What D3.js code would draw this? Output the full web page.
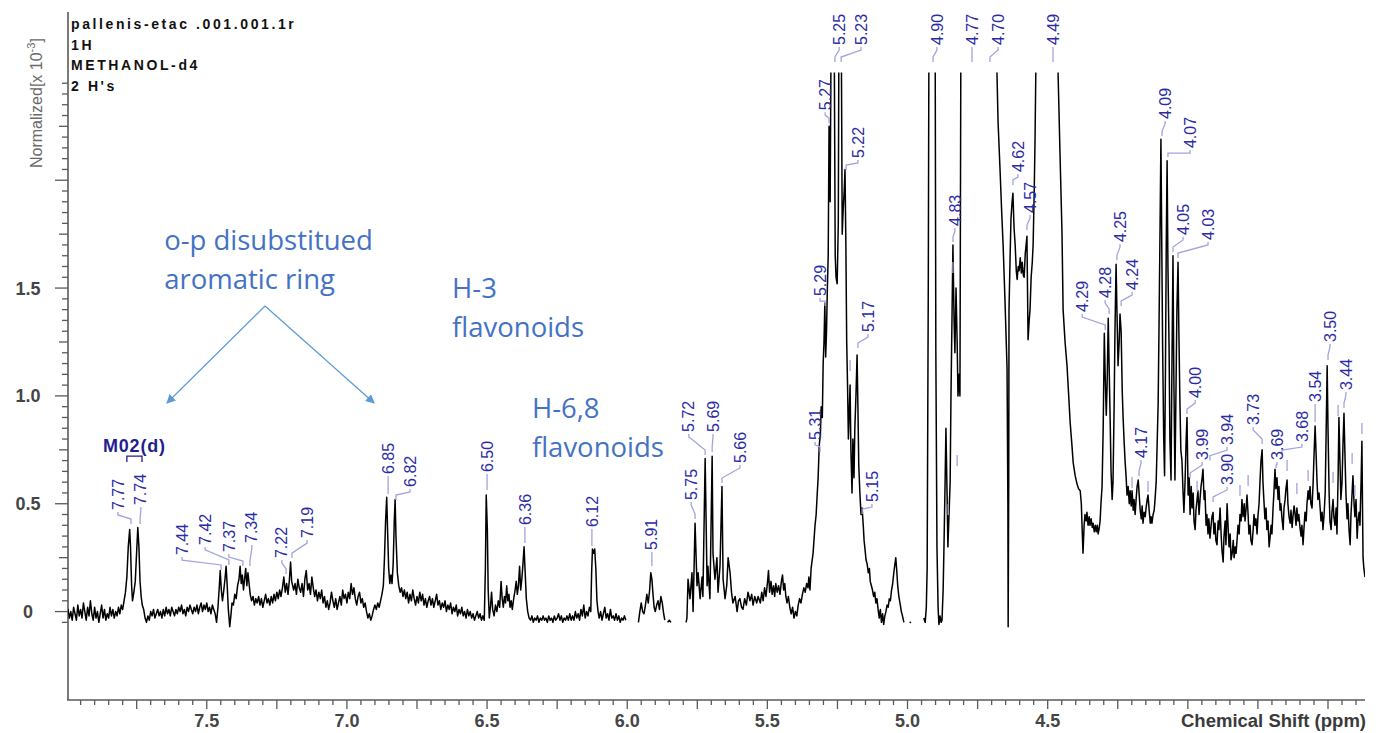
<!DOCTYPE html>
<html>
<head>
<meta charset="utf-8">
<script src="https://cdn.jsdelivr.net/npm/d3@7"></script>
<style>
  body { margin: 0; background: #fff; }
  svg { display: block; }
</style>
</head>
<body>
<div id="chart"></div>
<script>
// spectrum pieces, [chemical shift ppm, normalized intensity x 10^-3]
const specAromatic = [[8.00,-0.02],[7.995,0.01],[7.99,-0.03],[7.985,0.00],[7.98,-0.04],[7.975,0.02],[7.97,-0.01],[7.965,-0.04],[7.96,0.03],[7.955,-0.02],[7.95,0.01],[7.945,-0.03],[7.94,0.04],[7.935,0.00],[7.93,-0.04],[7.925,0.02],[7.92,-0.02],[7.915,0.05],[7.91,-0.01],[7.905,-0.04],[7.90,0.02],[7.895,-0.03],[7.89,0.00],[7.885,-0.05],[7.88,-0.01],[7.875,0.03],[7.87,-0.03],[7.865,0.01],[7.86,-0.04],[7.855,-0.01],[7.85,-0.03],[7.845,0.02],[7.84,-0.02],[7.835,0.01],[7.83,-0.03],[7.825,0.00],[7.82,-0.02],[7.815,0.02],[7.81,-0.01],[7.805,0.03],[7.80,0.01],[7.795,0.05],[7.79,0.09],[7.785,0.16],[7.78,0.30],[7.775,0.38],[7.772,0.30],[7.768,0.12],[7.765,0.05],[7.76,0.09],[7.755,0.14],[7.75,0.28],[7.746,0.39],[7.742,0.30],[7.738,0.14],[7.734,0.07],[7.73,0.03],[7.725,0.01],[7.72,-0.03],[7.715,-0.05],[7.71,-0.02],[7.705,-0.04],[7.70,0.00],[7.695,-0.02],[7.69,0.01],[7.685,-0.03],[7.68,-0.01],[7.675,0.01],[7.67,-0.02],[7.665,0.00],[7.66,-0.03],[7.655,0.01],[7.65,-0.02],[7.645,0.02],[7.64,-0.01],[7.635,0.01],[7.63,-0.02],[7.625,0.02],[7.62,0.00],[7.615,-0.02],[7.61,0.01],[7.605,-0.01],[7.60,0.02],[7.595,0.00],[7.59,0.03],[7.585,-0.01],[7.58,0.01],[7.575,-0.02],[7.57,0.02],[7.565,0.00],[7.56,0.03],[7.555,0.01],[7.55,-0.01],[7.545,0.02],[7.54,0.00],[7.535,0.03],[7.53,-0.01],[7.525,0.02],[7.52,0.04],[7.515,0.00],[7.51,0.03],[7.505,0.01],[7.50,0.04],[7.495,0.00],[7.49,0.02],[7.485,-0.01],[7.48,0.03],[7.475,0.01],[7.47,-0.01],[7.465,-0.05],[7.46,0.02],[7.455,0.12],[7.452,0.19],[7.448,0.10],[7.444,0.05],[7.44,0.09],[7.435,0.15],[7.431,0.21],[7.427,0.12],[7.423,0.01],[7.418,-0.07],[7.414,-0.02],[7.41,0.04],[7.405,0.03],[7.40,0.08],[7.395,0.06],[7.39,0.12],[7.385,0.15],[7.381,0.21],[7.377,0.13],[7.373,0.17],[7.369,0.10],[7.365,0.15],[7.361,0.20],[7.357,0.12],[7.353,0.18],[7.349,0.13],[7.345,0.08],[7.34,0.05],[7.335,0.07],[7.33,0.03],[7.325,0.06],[7.32,0.04],[7.315,0.07],[7.31,0.03],[7.305,0.06],[7.30,0.02],[7.295,0.05],[7.29,0.08],[7.285,0.04],[7.28,0.06],[7.275,0.03],[7.27,0.07],[7.265,0.04],[7.26,0.08],[7.255,0.05],[7.25,0.09],[7.245,0.06],[7.24,0.10],[7.235,0.07],[7.23,0.11],[7.225,0.16],[7.22,0.09],[7.215,0.13],[7.21,0.08],[7.205,0.15],[7.201,0.23],[7.197,0.14],[7.19,0.10],[7.185,0.13],[7.18,0.08],[7.175,0.15],[7.17,0.11],[7.165,0.09],[7.16,0.13],[7.155,0.07],[7.15,0.15],[7.145,0.19],[7.14,0.10],[7.135,0.13],[7.13,0.08],[7.125,0.16],[7.12,0.11],[7.115,0.07],[7.11,0.10],[7.105,0.05],[7.10,0.09],[7.095,0.06],[7.09,0.10],[7.085,0.04],[7.08,0.07],[7.075,0.02],[7.07,0.05],[7.065,0.01],[7.06,0.04],[7.055,0.09],[7.05,0.05],[7.045,0.02],[7.04,0.06],[7.035,0.01],[7.03,0.04],[7.025,0.07],[7.02,0.03],[7.015,0.10],[7.01,0.06],[7.005,0.08],[7.00,0.04],[6.995,0.09],[6.99,0.06],[6.985,0.13],[6.98,0.08],[6.975,0.11],[6.97,0.06],[6.965,0.03],[6.96,0.07],[6.955,0.09],[6.95,0.04],[6.945,0.06],[6.94,0.02],[6.935,0.04],[6.93,0.00],[6.925,-0.03],[6.92,-0.01],[6.915,-0.04],[6.91,-0.02],[6.905,0.01],[6.90,0.03],[6.895,0.01],[6.89,0.04],[6.885,0.02],[6.88,0.05],[6.875,0.08],[6.87,0.12],[6.866,0.25],[6.862,0.42],[6.858,0.53],[6.855,0.38],[6.851,0.20],[6.847,0.13],[6.843,0.17],[6.839,0.13],[6.835,0.22],[6.831,0.42],[6.828,0.52],[6.825,0.35],[6.82,0.18],[6.815,0.12],[6.81,0.09],[6.805,0.11],[6.80,0.07],[6.795,0.10],[6.79,0.06],[6.785,0.09],[6.78,0.04],[6.775,0.08],[6.77,0.05],[6.765,0.10],[6.76,0.06],[6.755,0.03],[6.75,0.07],[6.745,0.04],[6.74,0.09],[6.735,0.05],[6.73,0.08],[6.725,0.03],[6.72,0.06],[6.715,0.02],[6.71,0.05],[6.705,0.07],[6.70,0.03],[6.695,0.06],[6.69,0.02],[6.685,0.05],[6.68,0.08],[6.675,0.03],[6.67,0.05],[6.665,0.01],[6.66,0.04],[6.655,0.02],[6.65,0.05],[6.645,0.00],[6.64,0.03],[6.635,0.01],[6.63,0.04],[6.625,-0.01],[6.62,0.02],[6.615,0.00],[6.61,0.03],[6.605,-0.02],[6.60,0.01],[6.595,-0.01],[6.59,0.02],[6.585,-0.02],[6.58,0.00],[6.575,-0.03],[6.57,0.01],[6.565,-0.02],[6.56,0.00],[6.555,-0.03],[6.55,-0.01],[6.545,-0.04],[6.54,-0.02],[6.535,0.00],[6.53,-0.03],[6.525,-0.01],[6.52,-0.04],[6.515,-0.02],[6.51,-0.04],[6.506,0.20],[6.503,0.54],[6.499,0.38],[6.496,0.10],[6.492,-0.03],[6.488,0.02],[6.484,0.09],[6.48,0.01],[6.475,-0.02],[6.47,0.03],[6.465,0.00],[6.46,0.05],[6.455,0.02],[6.45,0.14],[6.446,0.06],[6.442,0.02],[6.438,0.07],[6.434,0.04],[6.43,0.12],[6.426,0.05],[6.422,0.08],[6.418,0.02],[6.414,0.05],[6.41,0.01],[6.405,0.06],[6.40,0.10],[6.396,0.14],[6.392,0.08],[6.388,0.12],[6.384,0.21],[6.38,0.10],[6.376,0.15],[6.372,0.22],[6.368,0.30],[6.364,0.18],[6.36,0.06],[6.355,0.00],[6.35,-0.03],[6.345,-0.04],[6.34,-0.02],[6.335,-0.05],[6.33,-0.03],[6.325,-0.04],[6.32,-0.02],[6.315,-0.05],[6.31,-0.03],[6.305,-0.04],[6.30,-0.02],[6.295,-0.04],[6.29,-0.03],[6.285,-0.05],[6.28,-0.02],[6.275,-0.04],[6.27,-0.03],[6.265,-0.05],[6.26,-0.02],[6.255,-0.04],[6.25,-0.03],[6.245,-0.01],[6.24,-0.04],[6.235,-0.02],[6.23,-0.05],[6.225,-0.03],[6.22,-0.04],[6.215,-0.02],[6.21,-0.04],[6.205,-0.01],[6.20,-0.04],[6.195,-0.02],[6.19,-0.04],[6.185,0.00],[6.18,-0.03],[6.175,-0.01],[6.17,-0.04],[6.165,0.01],[6.16,-0.02],[6.155,0.03],[6.15,-0.03],[6.145,0.00],[6.14,-0.02],[6.135,0.02],[6.13,0.00],[6.127,0.18],[6.124,0.29],[6.12,0.27],[6.116,0.29],[6.112,0.20],[6.108,0.05],[6.104,0.00],[6.10,-0.03],[6.095,0.00],[6.09,-0.04],[6.085,-0.01],[6.08,0.02],[6.075,-0.03],[6.07,-0.01],[6.065,-0.04],[6.06,0.01],[6.055,-0.03],[6.05,-0.02],[6.045,-0.04],[6.04,-0.01],[6.035,-0.04],[6.03,-0.02],[6.025,-0.05],[6.02,-0.03],[6.015,-0.04],[6.01,-0.02],[6.005,-0.04]];

const specH68 = [[5.96,-0.05],[5.955,0.00],[5.95,0.04],[5.945,0.00],[5.94,-0.01],[5.935,0.03],[5.93,0.08],[5.925,0.04],[5.92,0.10],[5.916,0.18],[5.912,0.15],[5.908,0.08],[5.904,0.02],[5.90,0.00],[5.895,0.03],[5.89,0.05],[5.885,0.01],[5.88,0.07],[5.875,0.04],[5.87,-0.01],[5.866,-0.04]];

const specH68tail = [[5.856,-0.05],[5.85,-0.04],[5.844,-0.05]];

const specH3 = [[5.79,-0.05],[5.787,-0.03],[5.783,0.15],[5.776,0.06],[5.769,0.18],[5.765,0.00],[5.758,0.41],[5.751,0.12],[5.747,0.18],[5.740,0.06],[5.733,0.16],[5.730,0.07],[5.722,0.71],[5.715,0.12],[5.712,0.21],[5.705,0.06],[5.697,0.72],[5.694,0.27],[5.687,0.15],[5.680,0.25],[5.676,0.09],[5.669,0.21],[5.662,0.58],[5.658,0.15],[5.651,0.06],[5.645,0.12],[5.640,0.25],[5.633,0.18],[5.628,0.09],[5.623,0.04],[5.615,0.07],[5.608,0.00],[5.603,0.05],[5.598,0.06],[5.592,0.02],[5.587,0.01],[5.581,0.06],[5.575,0.03],[5.569,0.09],[5.562,0.05],[5.556,0.08],[5.551,0.03],[5.545,0.07],[5.538,0.04],[5.533,0.07],[5.525,0.04],[5.52,0.09],[5.515,0.05],[5.51,0.11],[5.505,0.07],[5.50,0.13],[5.496,0.19],[5.492,0.09],[5.487,0.14],[5.483,0.08],[5.478,0.12],[5.474,0.07],[5.47,0.13],[5.465,0.09],[5.46,0.12],[5.455,0.08],[5.45,0.14],[5.446,0.17],[5.442,0.10],[5.438,0.13],[5.434,0.07],[5.43,0.04],[5.425,0.07],[5.42,0.02],[5.415,-0.01],[5.41,0.02],[5.405,-0.03],[5.40,0.00],[5.395,-0.02],[5.39,0.03],[5.385,0.06],[5.38,0.04],[5.375,0.08],[5.37,0.11],[5.365,0.09],[5.36,0.13],[5.355,0.11],[5.352,0.16],[5.348,0.10],[5.344,0.20],[5.337,0.27],[5.33,0.40],[5.326,0.45],[5.322,0.55],[5.319,0.62],[5.315,0.77],[5.311,0.82],[5.308,0.95],[5.304,0.90],[5.301,1.15],[5.298,1.25],[5.295,1.43],[5.292,1.18],[5.289,1.30],[5.286,1.50],[5.283,1.65],[5.280,2.25],[5.278,2.05],[5.276,1.90],[5.273,2.6],[5.270,3.0],[5.265,3.0],[5.262,2.8],[5.258,1.65],[5.255,1.55],[5.251,1.52],[5.247,1.80],[5.244,3.0],[5.239,3.0],[5.236,2.6],[5.233,1.75],[5.230,1.85],[5.226,1.95],[5.223,2.05],[5.220,1.70],[5.217,1.25],[5.214,1.05],[5.211,0.80],[5.208,0.92],[5.205,1.05],[5.202,0.75],[5.198,0.55],[5.195,0.80],[5.191,0.62],[5.188,0.85],[5.184,1.00],[5.180,1.19],[5.177,0.95],[5.174,0.68],[5.170,0.55],[5.166,0.45],[5.162,0.48],[5.158,0.40],[5.155,0.33],[5.151,0.28],[5.148,0.24],[5.144,0.22],[5.140,0.18],[5.136,0.20],[5.133,0.14],[5.129,0.12],[5.125,0.10],[5.121,0.07],[5.117,0.09],[5.113,0.04],[5.109,0.06],[5.105,0.01],[5.101,-0.03],[5.097,0.01],[5.093,-0.05],[5.089,-0.01],[5.085,-0.06],[5.081,-0.02],[5.077,0.00],[5.073,0.03],[5.069,0.02],[5.065,0.06],[5.061,0.05],[5.057,0.10],[5.053,0.13],[5.049,0.18],[5.045,0.22],[5.042,0.25],[5.039,0.20],[5.035,0.12],[5.031,0.07],[5.027,0.04],[5.022,0.00],[5.018,-0.02],[5.013,-0.05]];

const specSugar = [[4.942,-0.03],[4.937,-0.05],[4.933,0.02],[4.930,0.20],[4.926,1.5],[4.923,3.0],[4.91,3.4],[4.902,3.0],[4.899,1.2],[4.895,0.30],[4.891,0.02],[4.888,-0.06],[4.884,-0.02],[4.880,-0.05],[4.877,-0.04],[4.873,0.10],[4.870,0.30],[4.866,0.60],[4.863,0.85],[4.859,0.55],[4.856,0.30],[4.852,0.45],[4.848,0.60],[4.845,1.0],[4.841,1.40],[4.838,1.70],[4.834,1.35],[4.831,1.20],[4.827,1.50],[4.823,1.25],[4.820,1.00],[4.816,1.10],[4.813,1.00],[4.811,2.0],[4.809,3.0],[4.78,3.5],[4.74,3.6],[4.70,3.3],[4.688,2.9],[4.681,2.5],[4.677,2.27],[4.670,2.05],[4.664,1.85],[4.659,1.70],[4.652,1.43],[4.645,1.13],[4.642,0.50],[4.641,-0.07],[4.639,0.60],[4.638,1.40],[4.634,1.65],[4.631,1.82],[4.627,1.90],[4.624,1.94],[4.620,1.78],[4.616,1.70],[4.612,1.58],[4.609,1.54],[4.605,1.60],[4.602,1.58],[4.598,1.64],[4.594,1.57],[4.591,1.62],[4.587,1.56],[4.584,1.55],[4.580,1.66],[4.577,1.70],[4.574,1.74],[4.572,1.50],[4.570,1.26],[4.566,1.35],[4.563,1.40],[4.559,1.55],[4.555,1.62],[4.552,1.70],[4.548,1.95],[4.545,2.20],[4.538,3.0],[4.51,3.6],[4.47,3.0],[4.463,2.5],[4.456,2.12],[4.449,1.76],[4.445,1.40],[4.438,1.25],[4.431,1.14],[4.425,1.00],[4.420,0.88],[4.414,0.78],[4.409,0.69],[4.402,0.63],[4.395,0.59],[4.390,0.57],[4.384,0.56],[4.380,0.50],[4.377,0.38],[4.374,0.27],[4.370,0.40],[4.367,0.45],[4.363,0.42],[4.360,0.46],[4.356,0.40],[4.352,0.44],[4.349,0.40],[4.345,0.43],[4.341,0.39],[4.338,0.41],[4.334,0.37],[4.330,0.40],[4.327,0.37],[4.323,0.40],[4.320,0.36],[4.317,0.38],[4.313,0.42],[4.310,0.50],[4.306,0.58],[4.302,0.85],[4.298,1.29],[4.295,1.10],[4.291,0.91],[4.288,1.05],[4.284,1.36],[4.281,1.15],[4.277,0.88],[4.274,0.65],[4.270,0.52],[4.267,0.60],[4.263,0.95],[4.260,1.30],[4.256,1.61],[4.253,1.40],[4.249,1.14],[4.245,1.25],[4.242,1.38],[4.238,1.30],[4.234,1.02],[4.231,0.90],[4.227,0.78],[4.224,0.70],[4.220,0.62],[4.217,0.54],[4.213,0.58],[4.209,0.50],[4.206,0.56],[4.202,0.49],[4.199,0.56],[4.195,0.47],[4.192,0.52],[4.188,0.45],[4.184,0.53],[4.181,0.58],[4.177,0.61],[4.174,0.55],[4.170,0.47],[4.166,0.43],[4.163,0.49],[4.160,0.41],[4.156,0.46],[4.152,0.44],[4.149,0.48],[4.145,0.52],[4.142,0.54],[4.138,0.47],[4.134,0.41],[4.131,0.44],[4.128,0.41],[4.124,0.45],[4.120,0.47],[4.117,0.52],[4.113,0.60],[4.110,0.75],[4.106,0.96],[4.103,1.30],[4.099,1.80],[4.096,2.19],[4.093,1.70],[4.090,1.23],[4.086,0.80],[4.083,0.63],[4.080,1.10],[4.077,1.70],[4.074,2.09],[4.071,1.60],[4.067,1.23],[4.064,0.80],[4.060,0.61],[4.057,1.10],[4.053,1.65],[4.050,1.10],[4.046,0.61],[4.043,0.95],[4.039,1.40],[4.035,1.62],[4.032,1.30],[4.028,0.95],[4.025,0.75],[4.021,0.70],[4.017,0.55],[4.014,0.46],[4.010,0.60],[4.006,0.80],[4.003,0.90],[3.999,0.54],[3.995,0.62],[3.992,0.45],[3.988,0.58],[3.985,0.48],[3.981,0.55],[3.978,0.42],[3.974,0.38],[3.971,0.47],[3.967,0.52],[3.964,0.56],[3.960,0.45],[3.956,0.53],[3.953,0.58],[3.949,0.62],[3.946,0.66],[3.942,0.52],[3.939,0.56],[3.935,0.40],[3.932,0.45],[3.928,0.36],[3.925,0.43],[3.921,0.34],[3.917,0.40],[3.914,0.44],[3.910,0.46],[3.907,0.36],[3.903,0.41],[3.900,0.33],[3.896,0.31],[3.892,0.42],[3.889,0.38],[3.885,0.48],[3.881,0.35],[3.878,0.28],[3.874,0.23],[3.871,0.35],[3.867,0.42],[3.864,0.31],[3.860,0.50],[3.856,0.38],[3.853,0.30],[3.849,0.36],[3.846,0.24],[3.842,0.27],[3.838,0.33],[3.835,0.25],[3.831,0.30],[3.828,0.27],[3.824,0.34],[3.821,0.40],[3.817,0.36],[3.814,0.45],[3.810,0.42],[3.807,0.52],[3.803,0.44],[3.799,0.50],[3.796,0.42],[3.792,0.48],[3.789,0.54],[3.785,0.45],[3.782,0.36],[3.778,0.40],[3.775,0.33],[3.771,0.31],[3.767,0.38],[3.764,0.45],[3.760,0.40],[3.757,0.43],[3.753,0.36],[3.750,0.44],[3.746,0.50],[3.742,0.62],[3.739,0.70],[3.735,0.75],[3.732,0.60],[3.728,0.50],[3.725,0.43],[3.721,0.48],[3.718,0.38],[3.714,0.42],[3.710,0.30],[3.707,0.34],[3.703,0.40],[3.700,0.36],[3.696,0.48],[3.693,0.55],[3.689,0.66],[3.686,0.57],[3.682,0.62],[3.678,0.52],[3.675,0.58],[3.671,0.47],[3.668,0.50],[3.664,0.43],[3.660,0.38],[3.657,0.48],[3.653,0.52],[3.650,0.57],[3.646,0.61],[3.643,0.50],[3.639,0.44],[3.635,0.41],[3.632,0.47],[3.628,0.39],[3.625,0.44],[3.621,0.49],[3.618,0.46],[3.614,0.40],[3.611,0.48],[3.607,0.42],[3.604,0.45],[3.600,0.39],[3.596,0.35],[3.593,0.40],[3.589,0.31],[3.586,0.38],[3.582,0.46],[3.578,0.42],[3.575,0.50],[3.571,0.56],[3.568,0.52],[3.564,0.58],[3.561,0.50],[3.557,0.48],[3.553,0.60],[3.550,0.72],[3.546,0.86],[3.543,0.75],[3.539,0.60],[3.536,0.52],[3.532,0.55],[3.528,0.48],[3.525,0.42],[3.521,0.46],[3.518,0.38],[3.514,0.45],[3.510,0.55],[3.507,0.80],[3.503,1.14],[3.500,0.85],[3.496,0.55],[3.493,0.42],[3.489,0.38],[3.486,0.46],[3.482,0.52],[3.479,0.44],[3.475,0.40],[3.471,0.48],[3.468,0.36],[3.464,0.62],[3.461,0.90],[3.457,0.68],[3.454,0.52],[3.450,0.60],[3.446,0.80],[3.443,0.92],[3.439,0.70],[3.436,0.55],[3.432,0.43],[3.429,0.50],[3.425,0.38],[3.421,0.31],[3.418,0.45],[3.414,0.55],[3.411,0.63],[3.407,0.50],[3.404,0.44],[3.400,0.52],[3.396,0.34],[3.393,0.42],[3.389,0.46],[3.386,0.40],[3.382,0.60],[3.379,0.79],[3.377,0.50],[3.375,0.25],[3.372,0.20],[3.368,0.16]];

const xTickLabels = [7.5, 7.0, 6.5, 6.0, 5.5, 5.0, 4.5];
const yTickLabels = [0, 0.5, 1.0, 1.5];

const peakLabels = ["7.77","7.74","7.44","7.42","7.37","7.34","7.22","7.19","6.85","6.82","6.50","6.36","6.12","5.91","5.75","5.72","5.69","5.66","5.31","5.29","5.27","5.25","5.23","5.22","5.17","5.15","4.90","4.83","4.77","4.70","4.62","4.57","4.49","4.29","4.28","4.25","4.24","4.17","4.09","4.07","4.05","4.03","4.00","3.99","3.94","3.90","3.73","3.69","3.68","3.54","3.50","3.44"];

// where each label sits: [lead foot ppm, text ppm, text bottom, lead tip] (intensity units)
const peakLayout = [[7.770,7.817,0.471,0.406],[7.738,7.735,0.494,0.406],[7.449,7.588,0.262,0.193],[7.421,7.506,0.309,0.216],[7.371,7.421,0.276,0.211],[7.346,7.339,0.318,0.211],[7.217,7.232,0.248,0.174],[7.196,7.142,0.341,0.248],[6.853,6.853,0.638,0.545],[6.825,6.775,0.578,0.517],[6.500,6.500,0.647,0.564],[6.365,6.365,0.401,0.318],[6.126,6.126,0.392,0.304],[5.912,5.912,0.286,0.211],[5.758,5.772,0.517,0.429],[5.722,5.780,0.833,0.726],[5.697,5.694,0.833,0.740],[5.662,5.598,0.689,0.596],[5.312,5.330,0.796,0.740],[5.294,5.312,1.463,1.417],[5.280,5.294,2.325,2.265],[5.259,5.244,2.627,2.548],[5.237,5.166,2.627,2.548],[5.219,5.177,2.103,2.047],[5.177,5.141,1.296,1.222],[5.162,5.127,0.508,0.452],[4.909,4.895,2.627,2.548],[4.838,4.831,1.788,1.713],[4.770,4.770,2.627,2.548],[4.706,4.677,2.627,2.548],[4.624,4.606,2.038,1.978],[4.574,4.563,1.848,1.769],[4.481,4.481,2.627,2.548],[4.295,4.377,1.389,1.306],[4.281,4.295,1.454,1.380],[4.253,4.242,1.713,1.630],[4.238,4.199,1.491,1.417],[4.174,4.167,0.712,0.629],[4.092,4.081,2.284,2.205],[4.071,3.992,2.149,2.108],[4.053,4.017,1.746,1.667],[4.035,3.928,1.723,1.639],[4.003,3.974,0.990,0.916],[3.992,3.949,0.703,0.619],[3.921,3.860,0.772,0.700],[3.910,3.860,0.587,0.508],[3.735,3.767,0.865,0.777],[3.685,3.682,0.703,0.666],[3.664,3.593,0.786,0.726],[3.546,3.546,0.972,0.879],[3.500,3.493,1.250,1.166],[3.443,3.436,1.027,0.944]];

// peak picks without text: [ppm, top]
const pickMarks = [[5.205,1.166],[4.838,1.621],[4.823,0.726],[4.855,0.499],[4.199,0.624],[4.142,0.605],[3.967,0.605],[3.814,0.587],[3.785,0.633],[3.646,0.703],[3.611,0.596],[3.571,0.656],[3.482,0.647],[3.464,0.958],[3.414,0.735],[3.404,0.587],[3.379,0.874]];

const multiplets = [{name: "M02(d)", from: 7.785, to: 7.731, top: 0.721}];

const headerLines = ["pallenis-etac .001.001.1r", "1H", "METHANOL-d4", "2 H's"];

const notes = [
  {lines: ["o-p disubstitued", "aromatic ring"], ppm: 7.652, at: 1.676},
  {lines: ["H-3", "flavonoids"], ppm: 6.625, at: 1.454},
  {lines: ["H-6,8", "flavonoids"], ppm: 6.34, at: 0.898}
];
const arrowFrom = [7.292, 1.417];
const arrowTo = [[7.642, 0.967], [6.903, 0.967]];

const W = 1380, H = 733;
const svg = d3.select("#chart").append("svg")
  .attr("width", W).attr("height", H)
  .style("font-family", "'Liberation Sans', Arial, sans-serif");

const x = d3.scaleLinear().domain([7.995, 3.368]).range([68, 1365]);
const y = d3.scaleLinear().domain([-0.41, 2.78]).range([700, 12]);

const axisColor = "#5a5a5a";

// frame: left and bottom
svg.append("line").attr("x1", 68).attr("x2", 68).attr("y1", 12).attr("y2", 700)
  .attr("stroke", axisColor).attr("stroke-width", 1.6);
svg.append("line").attr("x1", 67).attr("x2", 1365).attr("y1", 700).attr("y2", 700)
  .attr("stroke", axisColor).attr("stroke-width", 1.6);

// y ticks every 0.05
const yTicks = d3.range(-1, 50).map(i => i * 0.05);
svg.append("g").selectAll("line").data(yTicks).join("line")
  .attr("x1", d => {
    const k = Math.round(d * 100);
    return 68 - (k % 50 === 0 ? 13 : k % 25 === 0 ? 9 : 6);
  })
  .attr("x2", 68)
  .attr("y1", d => y(d)).attr("y2", d => y(d))
  .attr("stroke", axisColor).attr("stroke-width", 1.3);

svg.append("g").selectAll("text").data(yTickLabels).join("text")
  .attr("x", 28).attr("y", d => y(d)).attr("dy", "0.36em")
  .attr("text-anchor", "middle")
  .attr("font-size", 18).attr("font-weight", "bold").attr("fill", "#454545")
  .text(d => d === 0 ? "0" : d3.format(".1f")(d));

// x ticks every 0.05 ppm
const xTicks = d3.range(68, 160).map(i => i * 0.05).filter(d => d <= 7.995 && d >= 3.368);
svg.append("g").selectAll("line").data(xTicks).join("line")
  .attr("x1", d => x(d)).attr("x2", d => x(d))
  .attr("y1", 700)
  .attr("y2", d => 700 + (Math.round(d * 100) % 25 === 0 ? 9 : 5))
  .attr("stroke", axisColor).attr("stroke-width", 1.3);

svg.append("g").selectAll("text").data(xTickLabels).join("text")
  .attr("x", d => x(d)).attr("y", 727)
  .attr("text-anchor", "middle")
  .attr("font-size", 18).attr("font-weight", "bold").attr("fill", "#454545")
  .text(d => d3.format(".1f")(d));

svg.append("text").attr("x", 1366).attr("y", 727).attr("text-anchor", "end")
  .attr("font-size", 18.5).attr("font-weight", "bold").attr("fill", "#3a3a3a")
  .text("Chemical Shift (ppm)");

// y title
const yt = svg.append("text")
  .attr("transform", "translate(42,168) rotate(-90)")
  .attr("font-size", 16).attr("fill", "#6a6a6a");
yt.append("tspan").text("Normalized[x 10");
yt.append("tspan").attr("font-size", 11).attr("dy", -7).text("-3");
yt.append("tspan").attr("dy", 7).text("]");

// header block
svg.append("g").selectAll("text").data(headerLines).join("text")
  .attr("x", 71).attr("y", (d, i) => 29 + i * 20.7)
  .attr("font-size", 14).attr("font-weight", "bold")
  .attr("letter-spacing", 2.6).attr("fill", "#111")
  .text(d => d);

// blue annotations
const noteColor = "#4472c4";
notes.forEach(n => {
  svg.append("g").selectAll("text").data(n.lines).join("text")
    .attr("x", x(n.ppm)).attr("y", (d, i) => y(n.at) + i * 39)
    .attr("font-family", "'Open Sans', Lato, sans-serif")
    .attr("font-size", 27.5).attr("fill", noteColor)
    .text(d => d);
});

svg.append("defs").append("marker")
  .attr("id", "head").attr("viewBox", "0 0 10 10")
  .attr("refX", 9).attr("refY", 5)
  .attr("markerWidth", 9).attr("markerHeight", 9)
  .attr("markerUnits", "userSpaceOnUse")
  .attr("orient", "auto")
  .append("path").attr("d", "M0,0 L10,5 L0,10 z").attr("fill", "#5b9bd5");

arrowTo.forEach(t => {
  svg.append("line")
    .attr("x1", x(arrowFrom[0])).attr("y1", y(arrowFrom[1]))
    .attr("x2", x(t[0])).attr("y2", y(t[1]))
    .attr("stroke", "#5b9bd5").attr("stroke-width", 1.2)
    .attr("marker-end", "url(#head)");
});

// the spectrum, clipped at the top like the original plot
svg.select("defs").append("clipPath").attr("id", "plotClip")
  .append("rect").attr("x", 68).attr("y", y(2.5))
  .attr("width", 1365 - 68).attr("height", 700 - y(2.5));

const line = d3.line().x(d => x(d[0])).y(d => y(d[1]));
const plot = svg.append("g").attr("clip-path", "url(#plotClip)");
[specAromatic, specH68, specH68tail, specH3, specSugar].forEach(seg => {
  plot.append("path").datum(seg)
    .attr("d", line)
    .attr("fill", "none").attr("stroke", "#000")
    .attr("stroke-width", 1.5).attr("stroke-linejoin", "round");
});
plot.append("circle").attr("cx", x(4.99)).attr("cy", y(-0.05)).attr("r", 0.9).attr("fill", "#000");

// peak labels with their bent leaders
const leadColor = "#a3a3e0", labelColor = "#2b2ba6";
const leaders = svg.append("g");
const labels = svg.append("g");
peakLabels.forEach((t, i) => {
  const [foot, tx, tb, tip] = peakLayout[i];
  const yb = y(tb), yt2 = y(tip);
  const k1 = yb + 5, k2 = Math.max(k1, yt2 - 5);
  const pts = [[x(tx), yb + 2], [x(tx), k1], [x(foot), k2], [x(foot), yt2]];
  leaders.append("path").attr("d", d3.line()(pts))
    .attr("fill", "none").attr("stroke", leadColor).attr("stroke-width", 1.3);
  labels.append("text")
    .attr("transform", `translate(${x(tx)},${yb}) rotate(-90)`)
    .attr("dy", "0.35em")
    .attr("font-size", 16).attr("fill", labelColor)
    .text(t);
});

leaders.selectAll("line.pick").data(pickMarks).join("line")
  .attr("class", "pick")
  .attr("x1", d => x(d[0])).attr("x2", d => x(d[0]))
  .attr("y1", d => y(d[1])).attr("y2", d => y(d[1]) + 11)
  .attr("stroke", leadColor).attr("stroke-width", 1.3);

multiplets.forEach(m => {
  const x1 = x(m.from), x2 = x(m.to), yy = y(m.top);
  svg.append("path")
    .attr("d", `M${x1},${yy + 6}V${yy}H${x2}V${yy + 6}`)
    .attr("fill", "none").attr("stroke", "#1f1f8f").attr("stroke-width", 1.3);
  svg.append("text").attr("x", (x1 + x2) / 2).attr("y", yy - 4)
    .attr("text-anchor", "middle")
    .attr("font-size", 18).attr("font-weight", "bold").attr("letter-spacing", 0.8)
    .attr("fill", "#1f1f8f")
    .text(m.name);
});
</script>
</body>
</html>
